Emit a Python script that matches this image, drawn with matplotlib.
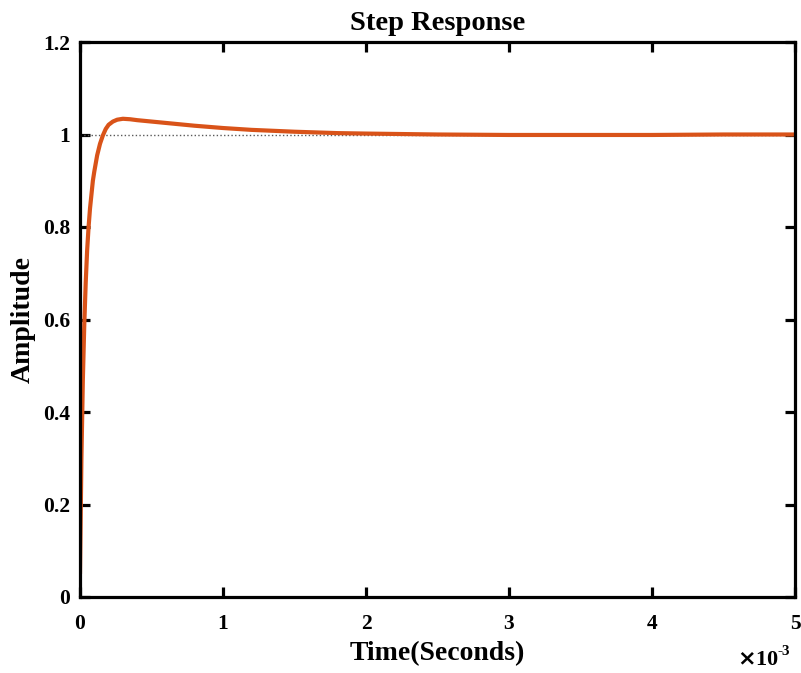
import matplotlib.pyplot as plt
from matplotlib.ticker import FuncFormatter

plt.rcParams['font.family'] = ['Liberation Serif', 'DejaVu Serif']
plt.rcParams['font.weight'] = 'bold'

# step response (time in ms)
time_ms = [0, 0.01, 0.02, 0.03, 0.04, 0.05, 0.06, 0.07, 0.08, 0.09, 0.10, 0.12,
           0.14, 0.16, 0.18, 0.20, 0.23, 0.26, 0.30, 0.35, 0.40, 0.50, 0.60,
           0.80, 1.0, 1.2, 1.5, 1.8, 2.0, 2.5, 3.0, 3.5, 4.0, 4.5, 5.0]
amplitude = [0.05, 0.30, 0.47, 0.59, 0.68, 0.75, 0.80, 0.84, 0.87, 0.90, 0.92, 0.955,
             0.980, 0.998, 1.012, 1.021, 1.028, 1.032, 1.034, 1.033, 1.031, 1.028, 1.025,
             1.019, 1.014, 1.010, 1.006, 1.003, 1.002, 1.000, 0.999, 0.999, 0.999, 1.0, 1.0]
final_value = 1.0

x_ticks = [0, 1, 2, 3, 4, 5]
y_ticks = [0, 0.2, 0.4, 0.6, 0.8, 1.0, 1.2]

W, H = 801, 673
fig = plt.figure(figsize=(W / 100, H / 100), dpi=100)
ax = fig.add_axes([80 / W, 76 / H, 715 / W, 555 / H])

ax.plot([x_ticks[0], x_ticks[-1]], [final_value, final_value], color='0.35',
        linestyle=':', linewidth=1.0)
ax.plot(time_ms, amplitude, color='#D95319', linewidth=3.0, solid_capstyle='butt')

ax.set_xlim(0, 5)
ax.set_ylim(0, 1.2)
ax.set_xticks(x_ticks)
ax.set_yticks(y_ticks)
ax.xaxis.set_major_formatter(FuncFormatter(lambda v, p: '%g' % v))
ax.yaxis.set_major_formatter(FuncFormatter(lambda v, p: '%g' % v))

for s in ax.spines.values():
    s.set_linewidth(2.3)
ax.tick_params(direction='in', length=7, width=2.3, top=True, right=True,
               labelsize=15.5)
ax.tick_params(axis='x', pad=12)
ax.tick_params(axis='y', pad=7)
for lab in ax.get_xticklabels() + ax.get_yticklabels():
    lab.set_fontweight('bold')

ax.set_title('Step Response', fontsize=20.5, fontweight='bold', pad=9)
ax.set_xlabel('Time(Seconds)', fontsize=20, fontweight='bold', va='baseline')
ax.xaxis.set_label_coords(0.5, -(660 - 597) / 555)
ax.set_ylabel('Amplitude', fontsize=20, fontweight='bold', va='center')
ax.yaxis.set_label_coords((23 - 80) / 715, 0.5)

# multiplier of the x axis
fig.text(737 / W, (H - 665) / H, r'$\times$10', ha='left', va='baseline',
         fontsize=16, fontweight='bold')
fig.text(778 / W, (H - 655) / H, '-3', ha='left', va='baseline',
         fontsize=11, fontweight='bold')

fig.savefig('out.png', dpi=100)
